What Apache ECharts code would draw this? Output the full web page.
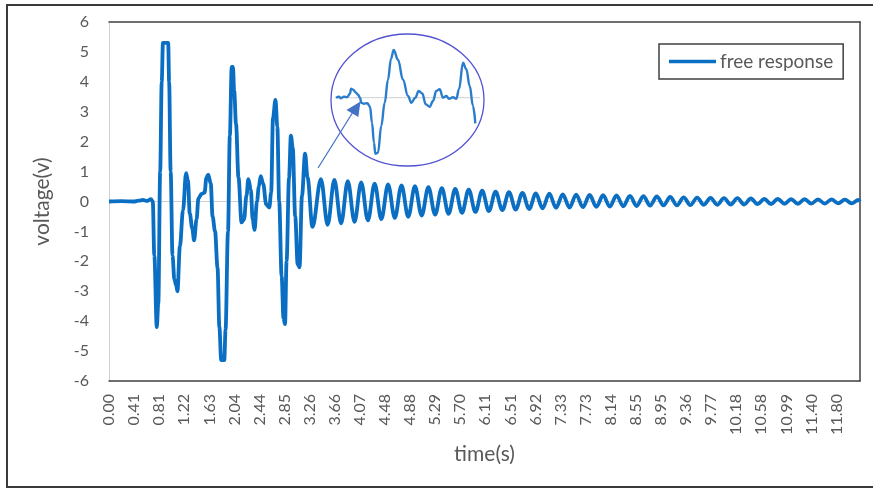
<!DOCTYPE html>
<html>
<head>
<meta charset="utf-8">
<script src="https://cdn.jsdelivr.net/npm/echarts@6/dist/echarts.min.js"></script>
<style>html,body{margin:0;padding:0;background:#fff;}#c{width:873px;height:489px;}</style>
</head>
<body>
<div id="c"></div>
<script>
// ---- data ----
const seriesName = 'free response';
const xTitle = 'time(s)';
const yTitle = 'voltage(v)';
const tickLabels = ['0.00','0.41','0.81','1.22','1.63','2.04','2.44','2.85','3.26','3.66','4.07','4.48','4.88','5.29','5.70','6.11','6.51','6.92','7.33','7.73','8.14','8.55','8.95','9.36','9.77','10.18','10.58','10.99','11.40','11.80'];
const tickStep = 0.4069;

// burst part (s, V)
const burstTime = [0.00,0.20,0.40,0.48,0.55,0.62,0.68,0.71,0.735,0.775,0.80,0.83,0.855,0.875,0.96,0.975,1.00,1.03,1.06,1.09,1.11,1.15,1.20,1.25,1.28,1.31,1.35,1.38,1.42,1.45,1.50,1.55,1.58,1.61,1.65,1.68,1.72,1.76,1.79,1.82,1.87,1.89,1.93,1.96,1.99,2.01,2.03,2.06,2.10,2.15,2.19,2.23,2.26,2.30,2.33,2.36,2.40,2.43,2.46,2.50,2.55,2.60,2.63,2.66,2.70,2.73,2.76,2.80,2.83,2.855,2.88,2.92,2.95,2.98,3.02,3.06,3.09,3.13,3.18,3.22,3.30];
const burstVolt = [0,0.01,0,0.03,0.05,0.02,0.08,0,-1.8,-4.2,-3.4,1.0,4.0,5.3,5.3,4.0,1.0,-1.8,-2.6,-2.8,-3.0,-1.5,-0.3,0.95,0.7,-0.4,-0.9,-1.3,-0.6,0.1,0.25,0.3,0.8,0.9,0.6,-0.5,-1.0,-2.2,-4.2,-5.3,-5.3,-4.3,-1.0,2.2,4.5,4.5,3.7,2.6,0.8,-0.7,-0.6,0.2,0.75,0.4,-0.6,-0.95,0.0,0.5,0.85,0.6,-0.1,-0.2,0.3,2.8,3.4,2.5,0.0,-2.5,-3.9,-4.1,-2.0,0.8,2.2,1.8,-0.5,-2.1,-2.2,0.2,1.6,0.8,-0.85];

// ringing part: successive peaks and troughs (s, V)
const ringTime = [3.437,3.546,3.655,3.764,3.873,3.982,4.090,4.199,4.308,4.417,4.526,4.635,4.744,4.853,4.962,5.071,5.180,5.289,5.398,5.507,5.616,5.725,5.834,5.943,6.052,6.161,6.270,6.379,6.487,6.596,6.705,6.814,6.923,7.032,7.141,7.250,7.359,7.468,7.577,7.686,7.795,7.904,8.013,8.122,8.231,8.340,8.449,8.558,8.667,8.776,8.884,8.993,9.102,9.211,9.320,9.429,9.538,9.647,9.756,9.865,9.974,10.083,10.192,10.301,10.410,10.519,10.628,10.737,10.846,10.955,11.063,11.172,11.281,11.390,11.499,11.608,11.717,11.826,11.935,12.044,12.153,12.18];
const ringVolt = [0.75,-0.78,0.72,-0.73,0.68,-0.68,0.64,-0.63,0.60,-0.59,0.57,-0.55,0.54,-0.51,0.51,-0.47,0.48,-0.44,0.45,-0.41,0.42,-0.38,0.40,-0.35,0.36,-0.32,0.33,-0.29,0.31,-0.27,0.29,-0.25,0.27,-0.23,0.26,-0.21,0.24,-0.20,0.23,-0.19,0.22,-0.18,0.21,-0.17,0.20,-0.16,0.19,-0.15,0.18,-0.14,0.17,-0.13,0.15,-0.13,0.14,-0.12,0.13,-0.11,0.12,-0.11,0.11,-0.10,0.11,-0.10,0.10,-0.09,0.09,-0.09,0.09,-0.08,0.08,-0.08,0.08,-0.07,0.07,-0.07,0.07,-0.06,0.06,-0.06,0.05,0.0];

// magnified inset waveform (relative units)
const insetX = [0,3,5,8,11,14,15,17,20,22,24,25.3,28,31.3,34,36,38,39.3,42,45.3,48.7,52,55,57.7,62,67,72,75.3,79.3,82.7,86.3,89.7,93.7,97,100.3,103.7,107,110.3,113,117,120.3,123,127,130.3,133.7,137,139.3];
const insetY = [0,0.1,-0.05,0.1,0.05,0.4,0.9,0.8,0.5,0.3,0,-0.5,-0.6,-0.55,-0.9,-2.5,-4.5,-5.6,-5.5,-2.8,-0.5,1.8,3.9,4.77,3.8,1.8,0.17,-0.5,0,0.67,0.43,-0.66,-0.9,-0.33,0.67,0.84,0,0.17,-0.1,0.05,-0.1,0.84,3.5,2.84,1.17,-0.83,-2.56];

// ---- build ----
const mainData = burstTime.concat(ringTime).map((t, i) => [t, burstVolt.concat(ringVolt)[i]]);
const insetData = insetX.map((x, i) => [x, insetY[i]]);
const tMax = 12.18;
const FONT = 'Lato, "Open Sans", sans-serif';
const GRAY = '#595959';
const DARK = '#404040';
const BLUE = '#0a6fc2';

const chart = echarts.init(document.getElementById('c'));
chart.setOption({
  backgroundColor: '#fff',
  animation: false,
  textStyle: { fontFamily: FONT },
  grid: [
    { left: 109, right: 13, top: 22, bottom: 108 },
    { left: 335, top: 47.7, width: 145, height: 110 }
  ],
  legend: {
    data: [seriesName],
    left: 659, top: 44,
    padding: [8, 10, 8, 10],
    icon: 'rect',
    itemWidth: 47, itemHeight: 3.5,
    itemGap: 4,
    borderColor: DARK, borderWidth: 1.5,
    textStyle: { color: GRAY, fontSize: 19, fontFamily: FONT, padding: [0, 0, 0, -1] }
  },
  xAxis: [
    {
      gridIndex: 0, type: 'value', min: 0, max: tMax, interval: tickStep,
      position: 'bottom',
      axisLine: { show: true, onZero: false, lineStyle: { color: DARK, width: 1.5 } },
      axisTick: { show: false },
      splitLine: { show: false },
      axisLabel: {
        rotate: 90, margin: 13, color: GRAY, fontSize: 16, fontFamily: FONT,
        showMaxLabel: false,
        formatter: v => { const i = Math.round(v / tickStep); return (Math.abs(v - i * tickStep) < 0.01 && tickLabels[i]) ? tickLabels[i] : ''; }
      },
      name: xTitle, nameLocation: 'middle', nameGap: 63,
      nameTextStyle: { color: GRAY, fontSize: 21, fontFamily: FONT }
    },
    {
      gridIndex: 0, type: 'value', min: 0, max: tMax, position: 'top',
      axisLine: { show: true, onZero: false, lineStyle: { color: DARK, width: 1.5 } },
      axisTick: { show: false }, axisLabel: { show: false }, splitLine: { show: false }
    },
    { gridIndex: 1, type: 'value', min: -1, max: 144, show: false }
  ],
  yAxis: [
    {
      gridIndex: 0, type: 'value', min: -6, max: 6, interval: 1,
      axisLine: { show: true, onZero: false, lineStyle: { color: '#d0d0d0', width: 1 } },
      axisTick: { show: false }, splitLine: { show: false },
      axisLabel: { margin: 20, color: GRAY, fontSize: 16, fontFamily: FONT },
      name: yTitle, nameLocation: 'middle', nameGap: 56,
      nameTextStyle: { color: GRAY, fontSize: 21, fontFamily: FONT }
    },
    {
      gridIndex: 0, type: 'value', min: -6, max: 6, position: 'right',
      axisLine: { show: true, onZero: false, lineStyle: { color: DARK, width: 1.5 } },
      axisTick: { show: false }, axisLabel: { show: false }, splitLine: { show: false }
    },
    { gridIndex: 1, type: 'value', min: -6, max: 5, show: false }
  ],
  series: [
    {
      name: 'zero', type: 'line', xAxisIndex: 0, yAxisIndex: 0, z: 1,
      data: [[0, 0], [tMax, 0]], symbol: 'none', silent: true,
      lineStyle: { color: '#d0d0d0', width: 1 }
    },
    {
      name: seriesName, type: 'line', xAxisIndex: 0, yAxisIndex: 0, z: 3,
      data: mainData, symbol: 'none', smooth: 0.35, smoothMonotone: 'x',
      lineStyle: { color: BLUE, width: 3.8 }, itemStyle: { color: BLUE }
    },
    {
      name: 'insetZero', type: 'line', xAxisIndex: 2, yAxisIndex: 2, z: 1,
      data: [[-1, 0], [144, 0]], symbol: 'none', silent: true,
      lineStyle: { color: '#d0d0d0', width: 1 }
    },
    {
      name: 'inset', type: 'line', xAxisIndex: 2, yAxisIndex: 2, z: 3,
      data: insetData, symbol: 'none', smooth: 0.4, smoothMonotone: 'x',
      lineStyle: { color: '#2a7ccc', width: 2.4 }
    }
  ],
  graphic: [
    { type: 'rect', shape: { x: 7, y: 5, width: 880, height: 482 }, style: { fill: 'none', stroke: '#3a3a3a', lineWidth: 2 }, silent: true, z: 0 },
    { type: 'ellipse', shape: { cx: 407.5, cy: 100, rx: 76.5, ry: 66 }, style: { fill: 'none', stroke: '#5353d1', lineWidth: 1.3 }, silent: true, z: 10 },
    { type: 'line', shape: { x1: 318, y1: 168, x2: 353, y2: 112 }, style: { stroke: '#4472C4', lineWidth: 1.2 }, silent: true, z: 10 },
    { type: 'polygon', shape: { points: [[360.5, 101.5], [346.5, 110], [358.3, 117]] }, style: { fill: '#4472C4' }, silent: true, z: 10 }
  ]
});
</script>
</body>
</html>
